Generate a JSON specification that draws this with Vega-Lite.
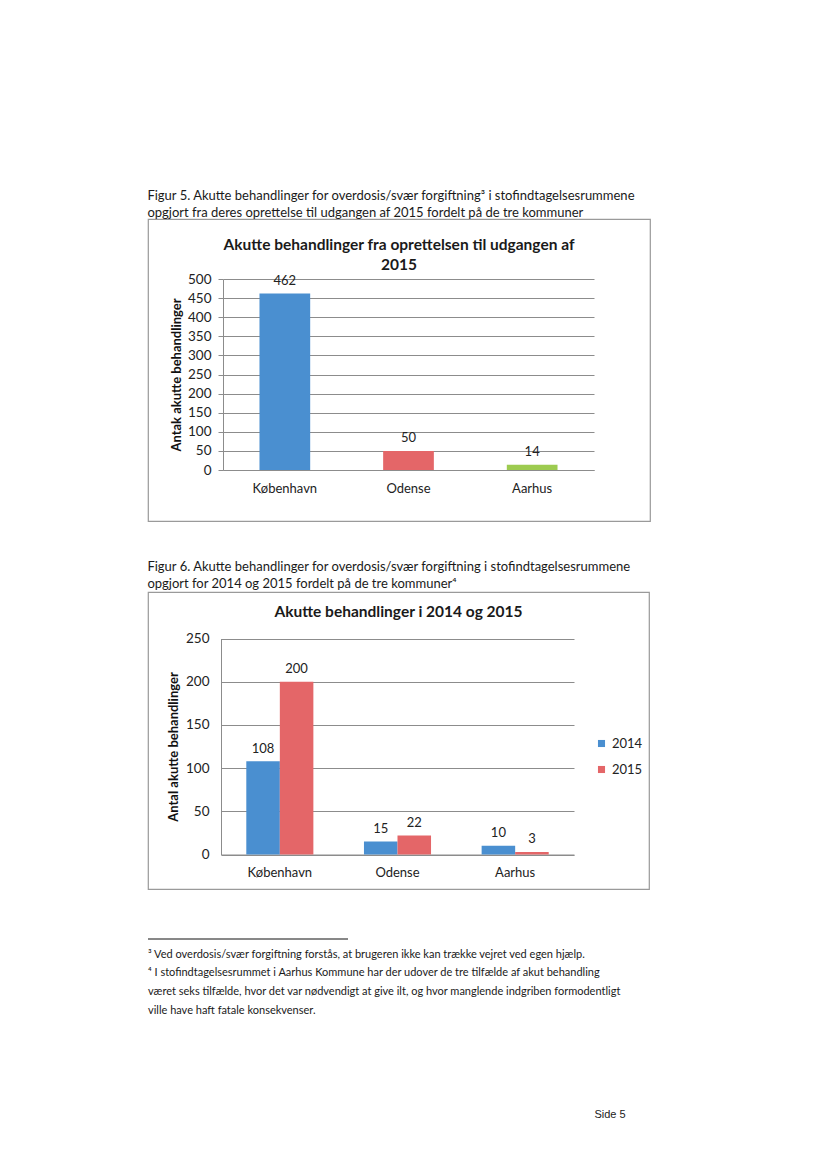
{
  "$schema": "https://vega.github.io/schema/vega-lite/v6.json",
  "background": "white",
  "padding": {"left": 147, "top": 190, "right": 0, "bottom": 0},
  "spacing": 39,
  "resolve": {"scale": {"color": "independent"}, "legend": {"color": "independent"}},
  "title": {"text": "Side 5", "orient": "bottom", "anchor": "end", "font": "Liberation Sans", "fontSize": 11, "fontWeight": "normal", "color": "#222", "offset": 93, "dx": -25},
  "config": {
    "font": "Lato",
    "title": {"color": "#1a1a1a", "font": "Lato"},
    "axis": {"labelFont": "Lato", "titleFont": "Lato", "labelColor": "#222", "titleColor": "#111"},
    "legend": {"labelFont": "Lato", "labelColor": "#222"}
  },
  "vconcat": [
    {
      "title": {"text": ["Figur 5. Akutte behandlinger for overdosis/svær forgiftning³ i stofindtagelsesrummene", "opgjort fra deres oprettelse til udgangen af 2015 fordelt på de tre kommuner"], "anchor": "start", "fontSize": 13, "fontWeight": "normal", "lineHeight": 17, "offset": -2},
      "vconcat": [
        {
          "width": 502,
          "height": 302,
          "title": {"text": ["Akutte behandlinger fra oprettelsen til udgangen af", "2015"], "anchor": "middle", "frame": "group", "fontSize": 15.5, "fontWeight": "bold", "lineHeight": 20, "offset": -54},
          "view": {"stroke": "#9a9a9a", "strokeWidth": 1.2},
          "data": {"values": [
            {"kommune": "København", "antal": 462},
            {"kommune": "Odense", "antal": 50},
            {"kommune": "Aarhus", "antal": 14}
          ]},
          "encoding": {
            "x": {"field": "kommune", "type": "nominal", "sort": null,
              "scale": {"range": [75, 446], "paddingInner": 0.59, "paddingOuter": 0.295},
              "axis": {"title": null, "labelAngle": 0, "ticks": false, "domainColor": "#8c8c8c", "labelPadding": 12, "offset": -51, "labelFontSize": 13, "grid": false}},
            "y": {"field": "antal", "type": "quantitative",
              "scale": {"domain": [0, 500], "range": [251, 60]},
              "axis": {"title": "Antak akutte behandlinger", "values": [0, 50, 100, 150, 200, 250, 300, 350, 400, 450, 500], "grid": true, "gridColor": "#8c8c8c", "gridOpacity": 1, "domainColor": "#8c8c8c", "tickColor": "#8c8c8c", "tickSize": 5, "labelPadding": 7, "offset": -75, "labelFontSize": 13.5, "titleFontSize": 13, "titleFontWeight": "bold", "titlePadding": 4}}
          },
          "layer": [
            {"mark": {"type": "bar"},
             "encoding": {"color": {"field": "kommune", "type": "nominal", "sort": null, "scale": {"domain": ["København", "Odense", "Aarhus"], "range": ["#4a8fd0", "#e46668", "#9dcb50"]}, "legend": null}}},
            {"mark": {"type": "text", "baseline": "alphabetic", "dy": -8.5, "fontSize": 13, "color": "#222"},
             "encoding": {"text": {"field": "antal", "type": "quantitative"}}}
          ]
        }
      ]
    },
    {
      "title": {"text": ["Figur 6. Akutte behandlinger for overdosis/svær forgiftning i stofindtagelsesrummene", "opgjort for 2014 og 2015 fordelt på de tre kommuner⁴"], "anchor": "start", "fontSize": 13, "fontWeight": "normal", "lineHeight": 17, "offset": 0},
      "resolve": {"scale": {"color": "independent"}, "legend": {"color": "independent"}},
      "vconcat": [
        {
          "width": 501,
          "height": 297,
          "title": {"text": "Akutte behandlinger i 2014 og 2015", "anchor": "middle", "frame": "group", "fontSize": 15.5, "fontWeight": "bold", "offset": -28},
          "view": {"stroke": "#9a9a9a", "strokeWidth": 1.2},
          "data": {"values": [
            {"kommune": "København", "year": "2014", "antal": 108},
            {"kommune": "København", "year": "2015", "antal": 200},
            {"kommune": "Odense", "year": "2014", "antal": 15},
            {"kommune": "Odense", "year": "2015", "antal": 22},
            {"kommune": "Aarhus", "year": "2014", "antal": 10},
            {"kommune": "Aarhus", "year": "2015", "antal": 3}
          ]},
          "encoding": {
            "x": {"field": "kommune", "type": "nominal", "sort": null,
              "scale": {"range": [73, 426], "paddingInner": 0.43, "paddingOuter": 0.215},
              "axis": {"title": null, "labelAngle": 0, "ticks": false, "domainColor": "#8c8c8c", "labelPadding": 12, "offset": -34.5, "labelFontSize": 13, "grid": false}},
            "xOffset": {"field": "year", "type": "nominal", "scale": {"paddingInner": 0, "paddingOuter": 0}},
            "y": {"field": "antal", "type": "quantitative",
              "scale": {"domain": [0, 250], "range": [262.5, 46.5]},
              "axis": {"title": "Antal akutte behandlinger", "values": [0, 50, 100, 150, 200, 250], "grid": true, "gridColor": "#8c8c8c", "gridOpacity": 1, "domainColor": "#8c8c8c", "tickColor": "#8c8c8c", "tickSize": 0, "labelPadding": 12, "offset": -73, "labelFontSize": 13.5, "titleFontSize": 13, "titleFontWeight": "bold", "titlePadding": 5}},
            "color": {"field": "year", "type": "nominal", "scale": {"domain": ["2014", "2015"], "range": ["#4a8fd0", "#e46668"]},
              "legend": {"title": null, "orient": "none", "legendX": 447, "legendY": 145, "direction": "vertical", "symbolType": "square", "symbolSize": 50, "labelFontSize": 13, "rowPadding": 12, "labelOffset": 4, "padding": 0}}
          },
          "layer": [
            {"mark": {"type": "bar"}},
            {"mark": {"type": "text", "baseline": "alphabetic", "dy": -8.5, "fontSize": 13},
             "encoding": {"text": {"field": "antal", "type": "quantitative"}, "color": {"value": "#222"}}}
          ]
        }
      ]
    },
    {
      "width": 200,
      "height": 10,
      "view": {"stroke": null},
      "title": {"text": ["³ Ved overdosis/svær forgiftning forstås, at brugeren ikke kan trække vejret ved egen hjælp.", "⁴ I stofindtagelsesrummet i Aarhus Kommune har der udover de tre tilfælde af akut behandling", "været seks tilfælde, hvor det var nødvendigt at give ilt, og hvor manglende indgriben formodentligt", "ville have haft fatale konsekvenser."], "orient": "bottom", "anchor": "start", "frame": "group", "fontSize": 11, "fontWeight": "normal", "lineHeight": 18.7, "offset": 9},
      "data": {"values": [{}]},
      "mark": {"type": "rule", "color": "#111", "strokeWidth": 1},
      "encoding": {
        "x": {"datum": 0, "type": "quantitative", "scale": {"domain": [0, 1]}, "axis": null},
        "x2": {"datum": 1},
        "y": {"datum": 0, "type": "quantitative", "scale": {"domain": [0, 1]}, "axis": null}
      }
    }
  ]
}
